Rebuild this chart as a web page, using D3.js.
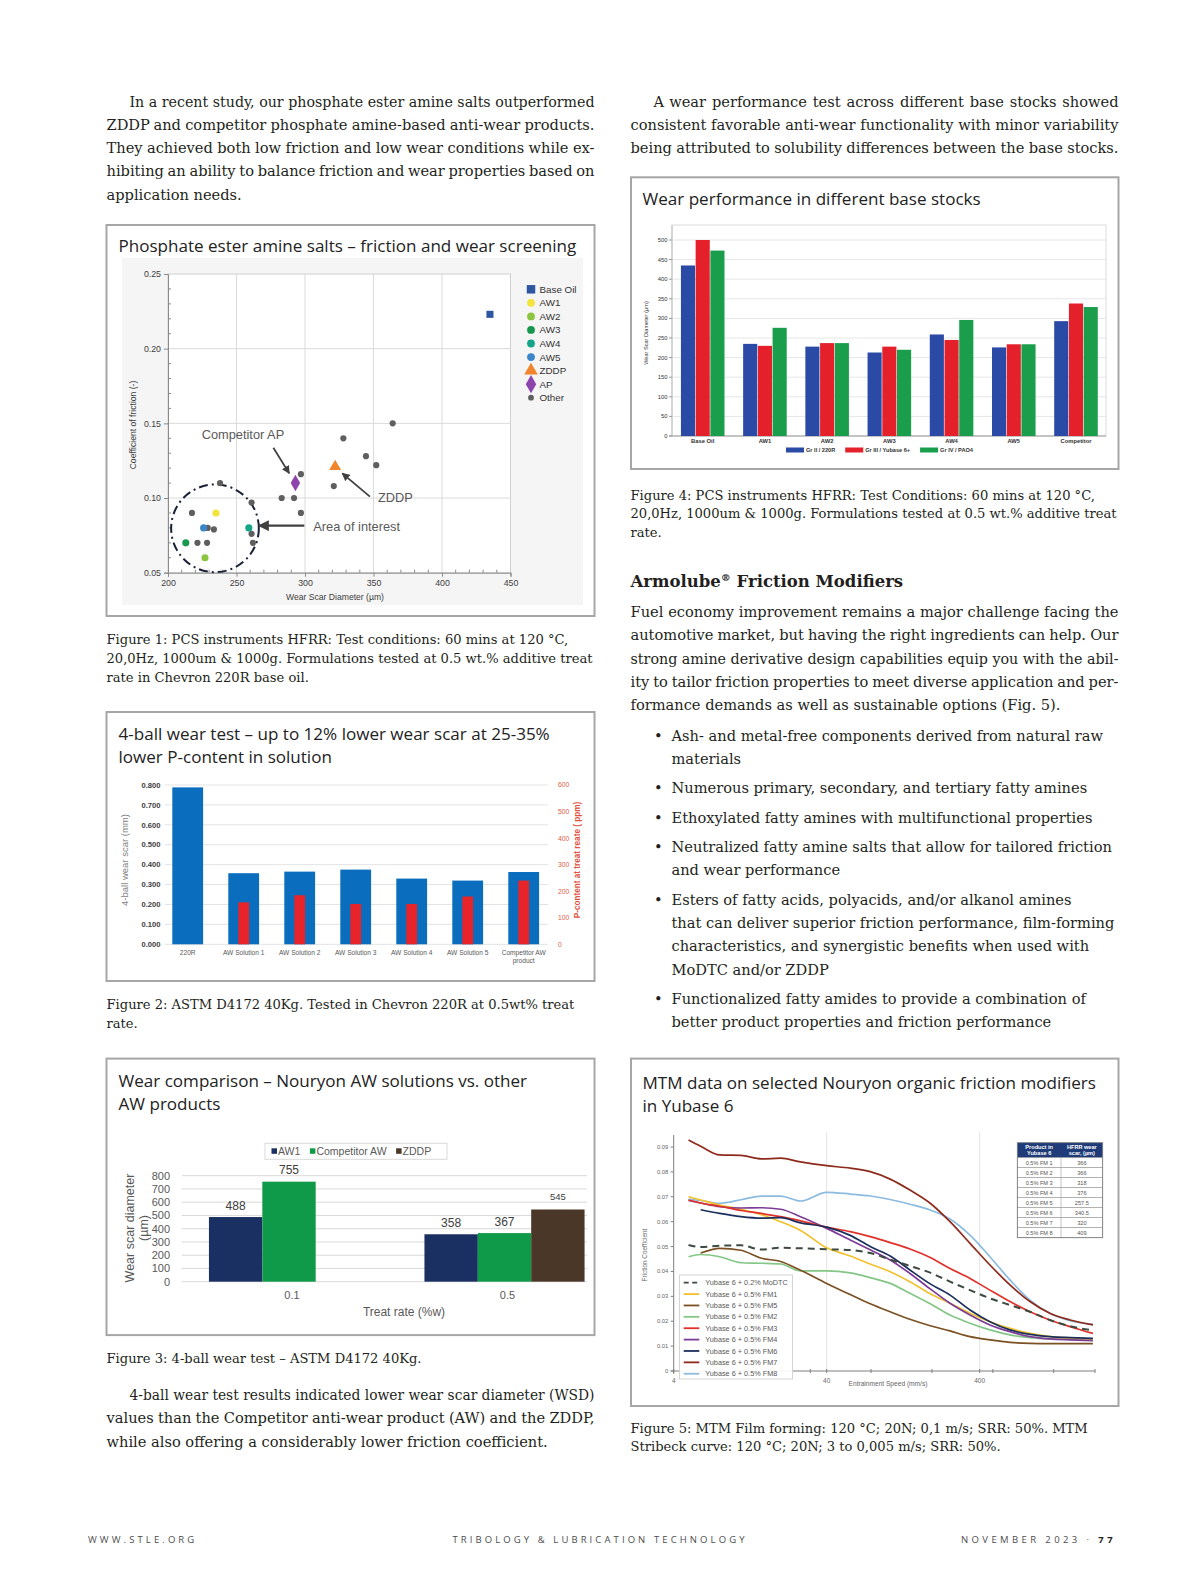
<!DOCTYPE html>
<html>
<head>
<meta charset="utf-8">
<script src="https://cdn.jsdelivr.net/npm/d3@7"></script>
<style>
  body { margin: 0; background: #fff; }
  svg { display: block; }
</style>
</head>
<body>
<svg id="page" width="1200" height="1588"></svg>
<script>
// ---------- data ----------
// Fig 1: friction / wear screening scatter
const scGroups = ["Base Oil", "AW1", "AW2", "AW3", "AW4", "AW5", "ZDDP", "AP", "Other"];
const scWear = [435, 235, 227, 213, 259, 226, 322, 293,
  364, 328, 344.5, 352, 321, 297, 283, 292, 297, 238, 261, 217.5, 229, 233.5, 261, 262, 221.5, 228.5];
const scCof = [0.223, 0.090, 0.060, 0.070, 0.080, 0.080, 0.121, 0.110,
  0.150, 0.140, 0.128, 0.122, 0.108, 0.116, 0.100, 0.100, 0.090, 0.110, 0.097, 0.090, 0.080, 0.079, 0.076, 0.070, 0.070, 0.070];
const scType = ["Base Oil", "AW1", "AW2", "AW3", "AW4", "AW5", "ZDDP", "AP"].concat(d3.range(18).map(() => "Other"));

// Fig 2: 4-ball wear scar vs P-content
const wsCats = ["220R", "AW Solution 1", "AW Solution 2", "AW Solution 3", "AW Solution 4", "AW Solution 5", "Competitor AW product"];
const wsScar = [0.788, 0.357, 0.365, 0.375, 0.330, 0.320, 0.363];
const wsPpm = [null, 158, 185, 152, 152, 180, 240];

// Fig 3: wear comparison
const cmpRates = ["0.1", "0.5"];
const cmpSeries = ["AW1", "Competitor AW", "ZDDP"];
const cmpAW1 = [488, 358];
const cmpCompetitor = [755, 367];
const cmpZDDP = [null, 545];

// Fig 4: base stocks
const bsCats = ["Base Oil", "AW1", "AW2", "AW3", "AW4", "AW5", "Competitor"];
const bsSeries = ["Gr II / 220R", "Gr III / Yubase 6+", "Gr IV / PAO4"];
const bsGr2 = [435, 235, 228, 213, 259, 226, 293];
const bsGr3 = [500, 230, 237, 228, 245, 234, 338];
const bsGr4 = [473, 276, 237, 220, 296, 234, 329];

// Fig 5: MTM Stribeck curves (speed in mm/s)
const mtmSpeed = [5, 6, 8, 11, 15, 20, 27, 40, 57, 77, 104, 140, 190, 256, 346, 467, 631, 853, 1150, 1560, 2200];
const mtmMoDTC = [0.0506, 0.0498, 0.0503, 0.0505, 0.0488, 0.0495, 0.0493, 0.0489, 0.0486, 0.0474, 0.0448, 0.0422, 0.0395, 0.0359, 0.0325, 0.0292, 0.0265, 0.0238, 0.0205, 0.0180, 0.0163];
const mtmFM1 = [0.0700, 0.0687, 0.0667, 0.0650, 0.0628, 0.0600, 0.0565, 0.0495, 0.0462, 0.0430, 0.0399, 0.0359, 0.0310, 0.0272, 0.0232, 0.0198, 0.0171, 0.0151, 0.0138, 0.0131, 0.0129];
const mtmFM5 = [null, 0.0474, 0.0493, 0.0485, 0.0453, 0.0440, 0.0405, 0.0352, 0.0307, 0.0270, 0.0238, 0.0208, 0.0182, 0.0161, 0.0138, 0.0125, 0.0115, 0.0111, 0.0110, 0.0110, 0.0110];
const mtmFM2 = [0.0459, 0.0468, 0.0459, 0.0435, 0.0433, 0.0430, 0.0402, 0.0402, 0.0394, 0.0375, 0.0352, 0.0312, 0.0270, 0.0225, 0.0192, 0.0165, 0.0145, 0.0134, 0.0129, 0.0127, 0.0127];
const mtmFM3 = [0.0687, 0.0675, 0.0662, 0.0645, 0.0633, 0.0620, 0.0603, 0.0578, 0.0560, 0.0540, 0.0516, 0.0490, 0.0456, 0.0412, 0.0372, 0.0325, 0.0279, 0.0238, 0.0205, 0.0178, 0.0151];
const mtmFM4 = [0.0685, 0.0675, 0.0660, 0.0655, 0.0656, 0.0650, 0.0620, 0.0573, 0.0526, 0.0487, 0.0446, 0.0392, 0.0330, 0.0272, 0.0225, 0.0185, 0.0158, 0.0138, 0.0129, 0.0125, 0.0122];
const mtmFM6 = [null, 0.0648, 0.0633, 0.0620, 0.0614, 0.0616, 0.0595, 0.0578, 0.0545, 0.0500, 0.0462, 0.0406, 0.0350, 0.0305, 0.0245, 0.0198, 0.0165, 0.0147, 0.0138, 0.0134, 0.0131];
const mtmFM7 = [0.0928, 0.0903, 0.0868, 0.0866, 0.0852, 0.0855, 0.0840, 0.0825, 0.0815, 0.0801, 0.0771, 0.0727, 0.0674, 0.0600, 0.0513, 0.0426, 0.0346, 0.0279, 0.0232, 0.0205, 0.0185];
const mtmFM8 = [0.0690, 0.0685, 0.0674, 0.0688, 0.0703, 0.0703, 0.0683, 0.0718, 0.0711, 0.0703, 0.0689, 0.0670, 0.0647, 0.0611, 0.0546, 0.0459, 0.0366, 0.0285, 0.0232, 0.0202, 0.0187];
const mtmNames = ["Yubase 6 + 0.2% MoDTC", "Yubase 6 + 0.5% FM1", "Yubase 6 + 0.5% FM5", "Yubase 6 + 0.5% FM2",
  "Yubase 6 + 0.5% FM3", "Yubase 6 + 0.5% FM4", "Yubase 6 + 0.5% FM6", "Yubase 6 + 0.5% FM7", "Yubase 6 + 0.5% FM8"];
const mtmXTicks = [4, 40, 400];
const mtmMinorTicks = [12.5, 31.25, 78, 195, 488, 1220];
const tblProducts = ["0.5% FM 1", "0.5% FM 2", "0.5% FM 3", "0.5% FM 4", "0.5% FM 5", "0.5% FM 6", "0.5% FM 7", "0.5% FM 8"];
const tblWear = ["366", "366", "318", "376", "257.5", "340.5", "320", "409"];

// ---------- page ----------
const page = d3.select("#page");
const SERIF = "'DejaVu Serif', 'Liberation Serif', serif";
const SANS = "'Liberation Sans', Arial, sans-serif";
const TITLE = "'Open Sans', 'Noto Sans', sans-serif";

// font size that makes a sample line as wide as it is in print
function fitSize(font, sample, target) {
  const t = page.append("text").attr("font-family", font).attr("font-size", 16).text(sample);
  const w = t.node().getComputedTextLength();
  t.remove();
  return 16 * target / w;
}
const BODY = fitSize(SERIF, "Ash- and metal-free components derived from natural raw", 432);
const CAP = fitSize(SERIF, "Figure 1: PCS instruments HFRR: Test conditions: 60 mins at 120 °C,", 462);

// lines of text; justified lines are spread word by word,
// lines that are too long are squeezed a little instead
function textBlock(lines, o) {
  const g = page.append("g").attr("font-family", o.font || SERIF)
    .attr("font-size", o.size).attr("fill", o.color || "#231f20");
  lines.forEach((ln, i) => {
    const x0 = o.x + (i === 0 && o.indent ? o.indent : 0);
    const t = g.append("text").attr("x", x0).attr("y", o.y + i * o.lh);
    const just = o.justify && (i < lines.length - 1 || o.justifyLast);
    if (!just) { t.text(ln); return; }
    const words = ln.split(" ");
    const spans = words.map(w => t.append("tspan").text(w));
    const widths = spans.map(s => s.node().getComputedTextLength());
    const avail = o.x + o.width - x0;
    const gap = (avail - d3.sum(widths)) / (words.length - 1);
    if (gap < 0.24 * o.size) {
      t.selectAll("tspan").remove();
      t.text(ln).attr("textLength", avail).attr("lengthAdjust", "spacingAndGlyphs");
      return;
    }
    let cx = x0;
    spans.forEach((s, k) => { s.attr("x", cx); cx += widths[k] + gap; });
  });
  return g;
}

function box(x, y, w, h) {
  page.append("rect").attr("x", x).attr("y", y).attr("width", w).attr("height", h)
    .attr("fill", "#fff").attr("stroke", "#a6a6a6").attr("stroke-width", 2);
}

const titles = [];
function title(lines, x, y) {
  lines.forEach((ln, i) => {
    titles.push(page.append("text").attr("x", x).attr("y", y + i * 23.3)
      .attr("font-family", TITLE).attr("font-size", 17).attr("fill", "#222").text(ln));
  });
}

// ---------- left column text ----------
textBlock([
  "In a recent study, our phosphate ester amine salts outperformed",
  "ZDDP and competitor phosphate amine-based anti-wear products.",
  "They achieved both low friction and low wear conditions while ex-",
  "hibiting an ability to balance friction and wear properties based on",
  "application needs."
], { x: 106.5, y: 106.5, lh: 23.3, size: BODY, width: 488, indent: 23, justify: true });

textBlock([
  "Figure 1: PCS instruments HFRR: Test conditions: 60 mins at 120 °C,",
  "20,0Hz, 1000um & 1000g. Formulations tested at 0.5 wt.% additive treat",
  "rate in Chevron 220R base oil."
], { x: 106.5, y: 644, lh: 18.8, size: CAP });

textBlock([
  "Figure 2: ASTM D4172 40Kg. Tested in Chevron 220R at 0.5wt% treat",
  "rate."
], { x: 106.5, y: 1009, lh: 18.8, size: CAP });

textBlock(["Figure 3: 4-ball wear test – ASTM D4172 40Kg."], { x: 106.5, y: 1362.5, lh: 18.8, size: CAP });

textBlock([
  "4-ball wear test results indicated lower wear scar diameter (WSD)",
  "values than the Competitor anti-wear product (AW) and the ZDDP,",
  "while also offering a considerably lower friction coefficient."
], { x: 106.5, y: 1400, lh: 23.3, size: BODY, width: 488, indent: 23, justify: true });

// ---------- right column text ----------
textBlock([
  "A wear performance test across different base stocks showed",
  "consistent favorable anti-wear functionality with minor variability",
  "being attributed to solubility differences between the base stocks."
], { x: 630.5, y: 106.5, lh: 23.3, size: BODY, width: 488, indent: 23, justify: true, justifyLast: true });

textBlock([
  "Figure 4: PCS instruments HFRR: Test Conditions: 60 mins at 120 °C,",
  "20,0Hz, 1000um & 1000g. Formulations tested at 0.5 wt.% additive treat",
  "rate."
], { x: 630.5, y: 499.5, lh: 18.8, size: CAP });

const head = page.append("text").attr("x", 630.5).attr("y", 586.5)
  .attr("font-family", "'DejaVu Serif', serif").attr("font-weight", "bold")
  .attr("font-size", 16.5).attr("fill", "#231f20");
head.append("tspan").text("Armolube");
head.append("tspan").attr("font-size", 10).attr("dy", -6).text("®");
head.append("tspan").attr("dy", 6).text(" Friction Modifiers");

textBlock([
  "Fuel economy improvement remains a major challenge facing the",
  "automotive market, but having the right ingredients can help. Our",
  "strong amine derivative design capabilities equip you with the abil-",
  "ity to tailor friction properties to meet diverse application and per-",
  "formance demands as well as sustainable options (Fig. 5)."
], { x: 630.5, y: 617, lh: 23.3, size: BODY, width: 488, justify: true });

const bullets = [
  ["Ash- and metal-free components derived from natural raw", "materials"],
  ["Numerous primary, secondary, and tertiary fatty amines"],
  ["Ethoxylated fatty amines with multifunctional properties"],
  ["Neutralized fatty amine salts that allow for tailored friction", "and wear performance"],
  ["Esters of fatty acids, polyacids, and/or alkanol amines", "that can deliver superior friction performance, film-forming",
    "characteristics, and synergistic benefits when used with", "MoDTC and/or ZDDP"],
  ["Functionalized fatty amides to provide a combination of", "better product properties and friction performance"]
];
let by = 740.5;
bullets.forEach(b => {
  page.append("text").attr("x", 654).attr("y", by).attr("font-family", SERIF)
    .attr("font-size", BODY).attr("fill", "#231f20").text("•");
  textBlock(b, { x: 671.5, y: by, lh: 23.3, size: BODY });
  by += b.length * 23.3 + 6.1;
});

textBlock([
  "Figure 5: MTM Film forming: 120 °C; 20N; 0,1 m/s; SRR: 50%. MTM",
  "Stribeck curve: 120 °C; 20N; 3 to 0,005 m/s; SRR: 50%."
], { x: 630.5, y: 1432.5, lh: 18.8, size: CAP });

// footer
const foot = page.append("g").attr("font-family", TITLE).attr("font-size", 9.5)
  .attr("fill", "#4d4d4d").attr("letter-spacing", 3.1);
foot.append("text").attr("x", 88).attr("y", 1543).text("WWW.STLE.ORG");
foot.append("text").attr("x", 600).attr("y", 1543).attr("text-anchor", "middle").text("TRIBOLOGY & LUBRICATION TECHNOLOGY");
const fr = foot.append("text").attr("x", 1116).attr("y", 1543).attr("text-anchor", "end").attr("letter-spacing", 3.4);
fr.append("tspan").text("NOVEMBER 2023 · ");
fr.append("tspan").attr("font-weight", "bold").attr("fill", "#222").text("77");

// ---------- boxes ----------
box(106.5, 225, 488, 391);
box(106.5, 712, 488, 269);
box(106.5, 1058.6, 488, 276.5);
box(631, 177.3, 487.5, 291.7);
box(631, 1058.6, 487.5, 347.4);

title(["Phosphate ester amine salts – friction and wear screening"], 118.5, 252);
title(["4-ball wear test – up to 12% lower wear scar at 25-35%", "lower P-content in solution"], 118.5, 739.5);
title(["Wear comparison – Nouryon AW solutions vs. other", "AW products"], 118.5, 1087);
title(["Wear performance in different base stocks"], 642.5, 204.5);
title(["MTM data on selected Nouryon organic friction modifiers", "in Yubase 6"], 642.5, 1089);

// fit every title to the width of the first one
const tw = titles[0].node().getComputedTextLength();
const tSize = 17 * 458 / tw;
titles.forEach(t => t.attr("font-size", tSize));

const defs = page.append("defs");
defs.append("marker").attr("id", "arr").attr("viewBox", "0 0 10 10").attr("refX", 9).attr("refY", 5)
  .attr("markerWidth", 4.5).attr("markerHeight", 4.5).attr("orient", "auto")
  .append("path").attr("d", "M0,0L10,5L0,10z").attr("fill", "#404040");
defs.append("marker").attr("id", "arrBig").attr("viewBox", "0 0 10 10").attr("refX", 9).attr("refY", 5)
  .attr("markerWidth", 5).attr("markerHeight", 5).attr("orient", "auto")
  .append("path").attr("d", "M0,0L10,5L0,10z").attr("fill", "#404040");

// ---------- Fig 1: scatter ----------
{
  const g = page.append("g").attr("font-family", SANS);
  g.append("rect").attr("x", 122).attr("y", 258).attr("width", 461).attr("height", 347).attr("fill", "#f5f5f5");
  const x = d3.scaleLinear().domain([200, 450]).range([168, 510.5]);
  const y = d3.scaleLinear().domain([0.05, 0.25]).range([572.7, 274]);
  g.append("rect").attr("x", x(200)).attr("y", y(0.25)).attr("width", x(450) - x(200))
    .attr("height", y(0.05) - y(0.25)).attr("fill", "#fff").attr("stroke", "#cfcfcf");
  g.selectAll(".vg").data([250, 300, 350, 400]).join("line")
    .attr("x1", d => x(d)).attr("x2", d => x(d)).attr("y1", y(0.05)).attr("y2", y(0.25)).attr("stroke", "#dadada");
  g.selectAll(".hg").data([0.10, 0.15, 0.20]).join("line")
    .attr("x1", x(200)).attr("x2", x(450)).attr("y1", d => y(d)).attr("y2", d => y(d)).attr("stroke", "#dadada");
  // minor ticks
  g.selectAll(".mx").data(d3.range(210, 450, 10).filter(d => d % 50)).join("line")
    .attr("x1", d => x(d)).attr("x2", d => x(d)).attr("y1", y(0.05)).attr("y2", y(0.05) - 3).attr("stroke", "#8a8a8a");
  g.selectAll(".my").data(d3.range(0.06, 0.25, 0.01).filter(d => Math.round(d * 100) % 5)).join("line")
    .attr("x1", x(200)).attr("x2", x(200) + 3).attr("y1", d => y(d)).attr("y2", d => y(d)).attr("stroke", "#8a8a8a");

  const ax = g.append("g").attr("transform", `translate(0,${y(0.05)})`)
    .call(d3.axisBottom(x).tickValues([200, 250, 300, 350, 400, 450]).tickSize(4).tickPadding(3));
  const ay = g.append("g").attr("transform", `translate(${x(200)},0)`)
    .call(d3.axisLeft(y).tickValues([0.05, 0.10, 0.15, 0.20, 0.25]).tickFormat(d3.format(".2f")).tickSize(4).tickPadding(3));
  [ax, ay].forEach(a => {
    a.attr("font-family", SANS).attr("font-size", 8.8);
    a.select(".domain").attr("stroke", "#8a8a8a");
    a.selectAll(".tick line").attr("stroke", "#8a8a8a");
    a.selectAll(".tick text").attr("fill", "#404040");
  });
  g.append("text").attr("x", 335).attr("y", 599.5).attr("text-anchor", "middle").attr("font-size", 8.6)
    .attr("fill", "#404040").text("Wear Scar Diameter (µm)");
  g.append("text").attr("transform", "translate(136,425) rotate(-90)").attr("text-anchor", "middle")
    .attr("font-size", 8.6).attr("fill", "#404040").text("Coefficient of friction (-)");

  const col = { "Base Oil": "#2f56a0", AW1: "#f3e33a", AW2: "#8cc540", AW3: "#16994e", AW4: "#17a589",
    AW5: "#3a86c8", ZDDP: "#f0852d", AP: "#8e44ad", Other: "#5f5f5f" };
  const shape = { "Base Oil": d3.symbolSquare, ZDDP: d3.symbolTriangle, AP: d3.symbolDiamond };
  const size = { "Base Oil": 50, ZDDP: 62, AP: 78, Other: 30 };
  const pts = scWear.map((w, i) => ({ w, c: scCof[i], t: scType[i] }))
    .sort((a, b) => (a.t === "Other" ? 0 : 1) - (b.t === "Other" ? 0 : 1));

  // area of interest ring
  const ring = { w: 234.3, c: 0.0797, r: 32 };
  const rpx = x(ring.w + ring.r) - x(ring.w);
  g.append("circle").attr("cx", x(ring.w)).attr("cy", y(ring.c)).attr("r", rpx)
    .attr("fill", "none").attr("stroke", "#1b2238").attr("stroke-width", 2).attr("stroke-dasharray", "9,4,2,4");

  g.selectAll(".pt").data(pts).join("path")
    .attr("transform", d => `translate(${x(d.w)},${y(d.c)})`)
    .attr("d", d => d3.symbol(shape[d.t] || d3.symbolCircle, size[d.t] || 40)())
    .attr("fill", d => col[d.t]);

  // annotations
  const ann = g.append("g").attr("font-size", 12.8).attr("fill", "#595959");
  ann.append("text").attr("x", x(224.6)).attr("y", y(0.1422) + 4.5).text("Competitor AP");
  ann.append("text").attr("x", x(353.3)).attr("y", y(0.1006) + 4.5).text("ZDDP");
  ann.append("text").attr("x", x(306)).attr("y", y(0.0808) + 4.5).text("Area of interest");
  const arrows = [
    [276.9, 0.1337, 288.5, 0.1165, "arr"],
    [347.4, 0.1009, 327.2, 0.1165, "arr"],
    [299.5, 0.0815, 266.4, 0.0815, "arrBig"]
  ];
  g.selectAll(".ar").data(arrows).join("line")
    .attr("x1", d => x(d[0])).attr("y1", d => y(d[1])).attr("x2", d => x(d[2])).attr("y2", d => y(d[3]))
    .attr("stroke", "#404040").attr("stroke-width", d => d[4] === "arrBig" ? 2.2 : 1.8)
    .attr("marker-end", d => `url(#${d[4]})`);

  // legend
  const lg = g.append("g").attr("font-size", 9.8).attr("fill", "#333");
  scGroups.forEach((s, i) => {
    const ly = 289.3 + i * 13.55;
    const lsz = { "Base Oil": 72, ZDDP: 80, AP: 95, Other: 26 }[s] || 48;
    lg.append("path").attr("transform", `translate(531,${ly})`)
      .attr("d", d3.symbol(shape[s] || d3.symbolCircle, lsz)()).attr("fill", col[s]);
    lg.append("text").attr("x", 539.5).attr("y", ly + 3.5).text(s);
  });
}

// ---------- Fig 2: 4-ball wear / P-content ----------
{
  const g = page.append("g").attr("font-family", SANS);
  const x = d3.scaleBand().domain(wsCats).range([159.7, 551.7]).paddingInner(0.45).paddingOuter(0.225);
  const yl = d3.scaleLinear().domain([0, 0.8]).range([944.3, 785]);
  const yr = d3.scaleLinear().domain([0, 600]).range([944.3, 785]);
  const ticks = d3.range(0, 0.81, 0.1);
  g.selectAll(".gl").data(ticks).join("line").attr("x1", 165).attr("x2", 548)
    .attr("y1", d => yl(d)).attr("y2", d => yl(d)).attr("stroke", "#e3e3e3");
  g.selectAll(".tl").data(ticks).join("text").attr("x", 160.5).attr("y", d => yl(d) + 2.7)
    .attr("text-anchor", "end").attr("font-size", 7.6).attr("font-weight", "bold").attr("fill", "#404040")
    .text(d3.format(".3f"));
  g.selectAll(".tr").data(d3.range(0, 601, 100)).join("text").attr("x", 558).attr("y", d => yr(d) + 2.4)
    .attr("font-size", 6.8).attr("fill", "#e0604a").text(d => d);
  g.selectAll(".bb").data(wsCats).join("rect")
    .attr("x", d => x(d)).attr("width", x.bandwidth())
    .attr("y", (d, i) => yl(wsScar[i])).attr("height", (d, i) => yl(0) - yl(wsScar[i])).attr("fill", "#0a6dbd");
  const rw = x.bandwidth() * 0.35;
  g.selectAll(".rb").data(wsCats.filter((d, i) => wsPpm[i] != null)).join("rect")
    .attr("x", d => x(d) + (x.bandwidth() - rw) / 2).attr("width", rw)
    .attr("y", d => yr(wsPpm[wsCats.indexOf(d)])).attr("height", d => yr(0) - yr(wsPpm[wsCats.indexOf(d)]))
    .attr("fill", "#e8242b");
  g.selectAll(".cl").data(wsCats).join("text")
    .attr("font-size", 6.6).attr("fill", "#595959").attr("text-anchor", "middle")
    .each(function (d) {
      const parts = d.length > 16 ? [d.slice(0, d.lastIndexOf(" ")), d.slice(d.lastIndexOf(" ") + 1)] : [d];
      parts.forEach((p, k) => d3.select(this).append("tspan")
        .attr("x", x(d) + x.bandwidth() / 2).attr("y", 955 + k * 8.4).text(p));
    });
  g.append("text").attr("transform", "translate(128,860) rotate(-90)").attr("text-anchor", "middle")
    .attr("font-size", 9.5).attr("fill", "#7f7f7f").text("4-ball wear scar (mm)");
  g.append("text").attr("transform", "translate(580,860) rotate(-90)").attr("text-anchor", "middle")
    .attr("font-size", 8.2).attr("font-weight", "bold").attr("fill", "#e0503c").text("P-content at treat reate ( ppm)");
}

// ---------- Fig 3: wear comparison ----------
{
  const g = page.append("g").attr("font-family", SANS);
  const x0 = d3.scaleBand().domain(cmpRates).range([181.25, 612.25]).paddingInner(0.257).paddingOuter(0.1285);
  const x1 = d3.scaleBand().domain(cmpSeries).range([0, x0.bandwidth()]);
  const y = d3.scaleLinear().domain([0, 800]).range([1281.7, 1175.7]);
  const col = { AW1: "#1b3062", "Competitor AW": "#0f9a4a", ZDDP: "#4a3728" };
  const vals = { AW1: cmpAW1, "Competitor AW": cmpCompetitor, ZDDP: cmpZDDP };
  const ticks = d3.range(0, 801, 100);
  g.selectAll(".gl").data(ticks).join("line").attr("x1", 181.7).attr("x2", 587)
    .attr("y1", d => y(d)).attr("y2", d => y(d)).attr("stroke", "#d9d9d9");
  g.selectAll(".tl").data(ticks).join("text").attr("x", 170).attr("y", d => y(d) + 4)
    .attr("text-anchor", "end").attr("font-size", 11).attr("fill", "#595959").text(d => d);
  const bars = [];
  cmpRates.forEach((r, i) => cmpSeries.forEach(s => {
    if (vals[s][i] != null) bars.push({ r, s, v: vals[s][i] });
  }));
  g.selectAll(".b").data(bars).join("rect")
    .attr("x", d => x0(d.r) + x1(d.s)).attr("width", x1.bandwidth())
    .attr("y", d => y(d.v)).attr("height", d => y(0) - y(d.v)).attr("fill", d => col[d.s]);
  g.selectAll(".lb").data(bars).join("text")
    .attr("x", d => x0(d.r) + x1(d.s) + x1.bandwidth() / 2)
    .attr("y", d => y(d.v) - (d.s === "ZDDP" ? 9 : 7.5))
    .attr("text-anchor", "middle").attr("font-size", d => d.s === "ZDDP" ? 9.5 : 12)
    .attr("fill", "#404040").text(d => d.v);
  g.selectAll(".cl").data(cmpRates).join("text")
    .attr("x", d => x0(d) + x0.bandwidth() / 2 + 3).attr("y", 1299)
    .attr("text-anchor", "middle").attr("font-size", 11).attr("fill", "#595959").text(d => d);
  g.append("text").attr("x", 404).attr("y", 1315.5).attr("text-anchor", "middle")
    .attr("font-size", 12).attr("fill", "#595959").text("Treat rate (%w)");
  g.append("text").attr("transform", "translate(134,1228) rotate(-90)").attr("text-anchor", "middle")
    .attr("font-size", 12.5).attr("fill", "#595959").text("Wear scar diameter");
  g.append("text").attr("transform", "translate(148,1228) rotate(-90)").attr("text-anchor", "middle")
    .attr("font-size", 12.5).attr("fill", "#595959").text("(µm)");
  // legend
  const lg = g.append("g").attr("font-size", 10.5).attr("fill", "#595959");
  lg.append("rect").attr("x", 265).attr("y", 1143.3).attr("width", 182).attr("height", 16)
    .attr("fill", "#fff").attr("stroke", "#d9d9d9");
  let lx = 271.5;
  cmpSeries.forEach(s => {
    lg.append("rect").attr("x", lx).attr("y", 1148.3).attr("width", 5.5).attr("height", 5.5).attr("fill", col[s]);
    const t = lg.append("text").attr("x", lx + 6.5).attr("y", 1155.2).text(s);
    lx += 6.5 + t.node().getComputedTextLength() + 9.5;
  });
}

// ---------- Fig 4: base stocks ----------
{
  const g = page.append("g").attr("font-family", SANS);
  const x0 = d3.scaleBand().domain(bsCats).range([671.6, 1107.1]).paddingInner(0.29).paddingOuter(0.145);
  const x1 = d3.scaleBand().domain(bsSeries).range([0, x0.bandwidth()]);
  const y = d3.scaleLinear().domain([0, 500]).range([436, 240]);
  const col = { "Gr II / 220R": "#2a4aa6", "Gr III / Yubase 6+": "#e4202b", "Gr IV / PAO4": "#1a9e4c" };
  const vals = { "Gr II / 220R": bsGr2, "Gr III / Yubase 6+": bsGr3, "Gr IV / PAO4": bsGr4 };
  const ticks = d3.range(0, 501, 50);
  g.append("rect").attr("x", 672).attr("y", 225).attr("width", 434).attr("height", 211)
    .attr("fill", "#fff").attr("stroke", "#dcdcdc");
  g.selectAll(".gl").data(ticks.slice(1)).join("line").attr("x1", 672).attr("x2", 1106)
    .attr("y1", d => y(d)).attr("y2", d => y(d)).attr("stroke", "#e6e6e6");
  g.append("line").attr("x1", 672).attr("x2", 672).attr("y1", 225).attr("y2", 436).attr("stroke", "#bdbdbd");
  g.append("line").attr("x1", 669).attr("x2", 1106).attr("y1", 436).attr("y2", 436).attr("stroke", "#9a9a9a");
  g.selectAll(".tk").data(ticks).join("line").attr("x1", 669).attr("x2", 672)
    .attr("y1", d => y(d)).attr("y2", d => y(d)).attr("stroke", "#9a9a9a");
  g.selectAll(".tl").data(ticks).join("text").attr("x", 667.5).attr("y", d => y(d) + 2)
    .attr("text-anchor", "end").attr("font-size", 5.8).attr("fill", "#333").text(d => d);
  const bars = [];
  bsCats.forEach((c, i) => bsSeries.forEach(s => bars.push({ c, s, v: vals[s][i] })));
  g.selectAll(".b").data(bars).join("rect")
    .attr("x", d => x0(d.c) + x1(d.s) + 0.3).attr("width", x1.bandwidth() - 0.6)
    .attr("y", d => y(d.v)).attr("height", d => y(0) - y(d.v)).attr("fill", d => col[d.s]);
  g.selectAll(".cl").data(bsCats).join("text")
    .attr("x", d => x0(d) + x0.bandwidth() / 2).attr("y", 442.5)
    .attr("text-anchor", "middle").attr("font-size", 5.8).attr("font-weight", "bold").attr("fill", "#333").text(d => d);
  g.append("text").attr("transform", "translate(648,333) rotate(-90)").attr("text-anchor", "middle")
    .attr("font-size", 5.6).attr("fill", "#333").text("Wear Scar Diameter (µm)");
  let lx = 786;
  bsSeries.forEach(s => {
    g.append("rect").attr("x", lx).attr("y", 447.5).attr("width", 18).attr("height", 5).attr("fill", col[s]);
    const t = g.append("text").attr("x", lx + 20).attr("y", 452.3).attr("font-size", 5.6)
      .attr("font-weight", "bold").attr("fill", "#333").text(s);
    lx += 20 + t.node().getComputedTextLength() + 10;
  });
}

// ---------- Fig 5: MTM ----------
{
  const g = page.append("g").attr("font-family", SANS);
  const x = d3.scaleLog().domain([4, 2270]).range([673.7, 1095]);
  const y = d3.scaleLinear().domain([0, 0.09]).range([1371, 1147]);
  g.selectAll(".vg").data([40, 400]).join("line").attr("x1", d => x(d)).attr("x2", d => x(d))
    .attr("y1", 1132).attr("y2", y(0)).attr("stroke", "#e4e4e4");
  g.append("line").attr("x1", x(4)).attr("x2", x(4)).attr("y1", 1135).attr("y2", y(0) + 3).attr("stroke", "#7f7f7f");
  g.append("line").attr("x1", x(4) - 3).attr("x2", x(2270)).attr("y1", y(0)).attr("y2", y(0)).attr("stroke", "#7f7f7f");
  const yt = d3.range(0, 0.0901, 0.01);
  g.selectAll(".ytk").data(yt).join("line").attr("x1", x(4) - 3).attr("x2", x(4))
    .attr("y1", d => y(d)).attr("y2", d => y(d)).attr("stroke", "#7f7f7f");
  g.selectAll(".ytl").data(yt).join("text").attr("x", x(4) - 5.5).attr("y", d => y(d) + 2)
    .attr("text-anchor", "end").attr("font-size", 5.8).attr("fill", "#666")
    .text(d => d === 0 ? "0" : d3.format(".2f")(d));
  g.selectAll(".xtk").data(mtmXTicks.concat(mtmMinorTicks, [2270])).join("line")
    .attr("x1", d => x(d)).attr("x2", d => x(d)).attr("y1", y(0) - 2).attr("y2", y(0) + 2).attr("stroke", "#7f7f7f");
  g.selectAll(".xtl").data(mtmXTicks).join("text").attr("x", d => x(d)).attr("y", y(0) + 12)
    .attr("text-anchor", "middle").attr("font-size", 6.5).attr("fill", "#666").text(d => d);
  g.append("text").attr("x", 888).attr("y", 1385.5).attr("text-anchor", "middle")
    .attr("font-size", 6.6).attr("fill", "#666").text("Entrainment Speed (mm/s)");
  g.append("text").attr("transform", "translate(647,1255) rotate(-90)").attr("text-anchor", "middle")
    .attr("font-size", 6.4).attr("fill", "#666").text("Friction Coefficient");

  const series = [mtmMoDTC, mtmFM1, mtmFM5, mtmFM2, mtmFM3, mtmFM4, mtmFM6, mtmFM7, mtmFM8];
  const colors = ["#3d4a3f", "#f2c12e", "#7b5023", "#84c686", "#e0312b", "#7d3c98", "#1c2f5c", "#8e2a1c", "#8cbbe0"];
  const order = [8, 7, 3, 2, 1, 5, 4, 6, 0];
  const line = d3.line().defined(d => d[1] != null).curve(d3.curveMonotoneX)
    .x(d => x(d[0])).y(d => y(d[1]));
  order.forEach(k => {
    g.append("path").datum(mtmSpeed.map((s, i) => [s, series[k][i]]))
      .attr("d", line).attr("fill", "none").attr("stroke", colors[k])
      .attr("stroke-width", k === 0 ? 2 : 1.7).attr("stroke-dasharray", k === 0 ? "7,5" : null);
  });

  // legend
  const lg = g.append("g");
  lg.append("rect").attr("x", 679.5).attr("y", 1275).attr("width", 113).attr("height", 104)
    .attr("fill", "#fff").attr("fill-opacity", 0.92).attr("stroke", "#d4d4d4");
  mtmNames.forEach((n, i) => {
    const ly = 1282.7 + i * 11.38;
    lg.append("line").attr("x1", 683.7).attr("x2", 699.3).attr("y1", ly).attr("y2", ly)
      .attr("stroke", colors[i]).attr("stroke-width", 1.8).attr("stroke-dasharray", i === 0 ? "5,3.5" : null);
    lg.append("text").attr("x", 705.3).attr("y", ly + 2.6).attr("font-size", 7.3).attr("fill", "#595959").text(n);
  });

  // HFRR table
  const tx = [1017.3, 1061, 1102.7];
  const tb = g.append("g").attr("font-size", 5.6);
  tb.append("rect").attr("x", tx[0]).attr("y", 1142.7).attr("width", tx[2] - tx[0]).attr("height", 15)
    .attr("fill", "#203c78");
  [["Product in", "Yubase 6"], ["HFRR wear", "scar, (µm)"]].forEach((h, c) => {
    h.forEach((t, k) => tb.append("text").attr("x", (tx[c] + tx[c + 1]) / 2).attr("y", 1149 + k * 6.2)
      .attr("text-anchor", "middle").attr("font-weight", "bold").attr("fill", "#fff").text(t));
  });
  tblProducts.forEach((p, i) => {
    const ry = 1157.7 + i * 10;
    tb.append("rect").attr("x", tx[0]).attr("y", ry).attr("width", tx[2] - tx[0]).attr("height", 10)
      .attr("fill", "#fff").attr("stroke", "#9a9a9a").attr("stroke-width", 0.6);
    tb.append("line").attr("x1", tx[1]).attr("x2", tx[1]).attr("y1", ry).attr("y2", ry + 10)
      .attr("stroke", "#9a9a9a").attr("stroke-width", 0.6);
    tb.append("text").attr("x", (tx[0] + tx[1]) / 2).attr("y", ry + 7).attr("text-anchor", "middle")
      .attr("fill", "#555").text(p);
    tb.append("text").attr("x", (tx[1] + tx[2]) / 2).attr("y", ry + 7).attr("text-anchor", "middle")
      .attr("fill", "#555").text(tblWear[i]);
  });
  tb.append("rect").attr("x", tx[0]).attr("y", 1142.7).attr("width", tx[2] - tx[0]).attr("height", 95)
    .attr("fill", "none").attr("stroke", "#7a7a7a").attr("stroke-width", 0.8);
}
</script>
</body>
</html>
